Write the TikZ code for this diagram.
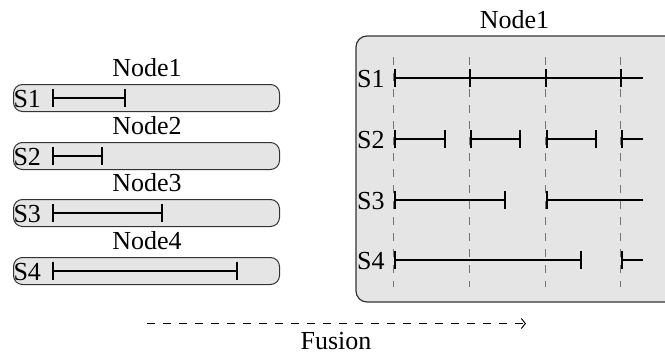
\documentclass[tikz,border=0pt]{standalone}
\usepackage{fontspec}
\setmainfont{Liberation Serif}
\newfontfamily\timesfont{Liberation Serif}
\usetikzlibrary{arrows.meta}
\begin{document}
\begin{tikzpicture}[x=1pt,y=-1pt,
  txt/.style={font=\timesfont\fontsize{26}{30}\selectfont, inner sep=0pt, anchor=base},
  stxt/.style={font=\timesfont\fontsize{26}{30}\selectfont, inner sep=0pt, anchor=base west},
  barbox/.style={draw=black!80, fill=black!10, rounded corners=9pt, line width=1pt},
  bigbox/.style={draw=black!80, fill=black!10, rounded corners=11pt, line width=1.2pt},
  seg/.style={line width=2pt, {Bar[width=18pt]}-{Bar[width=18pt]}},
  openseg/.style={line width=2pt, {Bar[width=18pt]}-},
  tick/.style={line width=2pt},
  guide/.style={draw=black!55, line width=1pt, dash pattern=on 8pt off 8pt},
  fusionarrow/.style={line width=1pt, dash pattern=on 8pt off 8pt, -{Straight Barb[length=4pt,width=10pt]}}]
\clip (0,0) rectangle (665,354);
\useasboundingbox (0,0) rectangle (665,354);

% left bars
\foreach \c/\e/\i in {98/126/1, 156/103/2, 213/163/3, 271/238/4}{
  \draw[barbox] (13.5,\c-13.5) rectangle (279.5,\c+13.5);
  \node[txt] (lnode\i) at (147,\c-21.5) {Node\i};
  \node[stxt] (ls\i) at (13.3,\c+9) {S\i};
  \draw[seg] (52,\c) -- (\e,\c);
}

% right box
\draw[bigbox] (356,36) rectangle (700,302);
\node[txt] (rnode) at (514.5,28) {Node1};
\foreach \x in {393.5,469.5,545.5,620.5}{
  \draw[guide] (\x,57) -- (\x,287);
}
\foreach \r/\i in {78/1,139/2,200/3,260/4}{
  \node[stxt] (rs\i) at (357,\r+9.8) {S\i};
}
% S1
\draw[openseg] (394,78) -- (643,78);
\foreach \x in {470,546,621}{
  \draw[tick] (\x,69) -- (\x,87);
}
% S2
\draw[seg] (394,139) -- (446,139);
\draw[seg] (470,139) -- (521,139);
\draw[seg] (546,139) -- (597,139);
\draw[openseg] (621,139) -- (643,139);
% S3
\draw[seg] (394,200) -- (506,200);
\draw[openseg] (546,200) -- (643,200);
% S4
\draw[seg] (394,260) -- (582,260);
\draw[openseg] (621,260) -- (643,260);

% fusion
\coordinate (fa) at (147,323.5);
\coordinate (fb) at (526,323.5);
\draw[fusionarrow] (fa) -- (fb);
\node[txt] (fusion) at (336,349) {Fusion};
\end{tikzpicture}
\end{document}
